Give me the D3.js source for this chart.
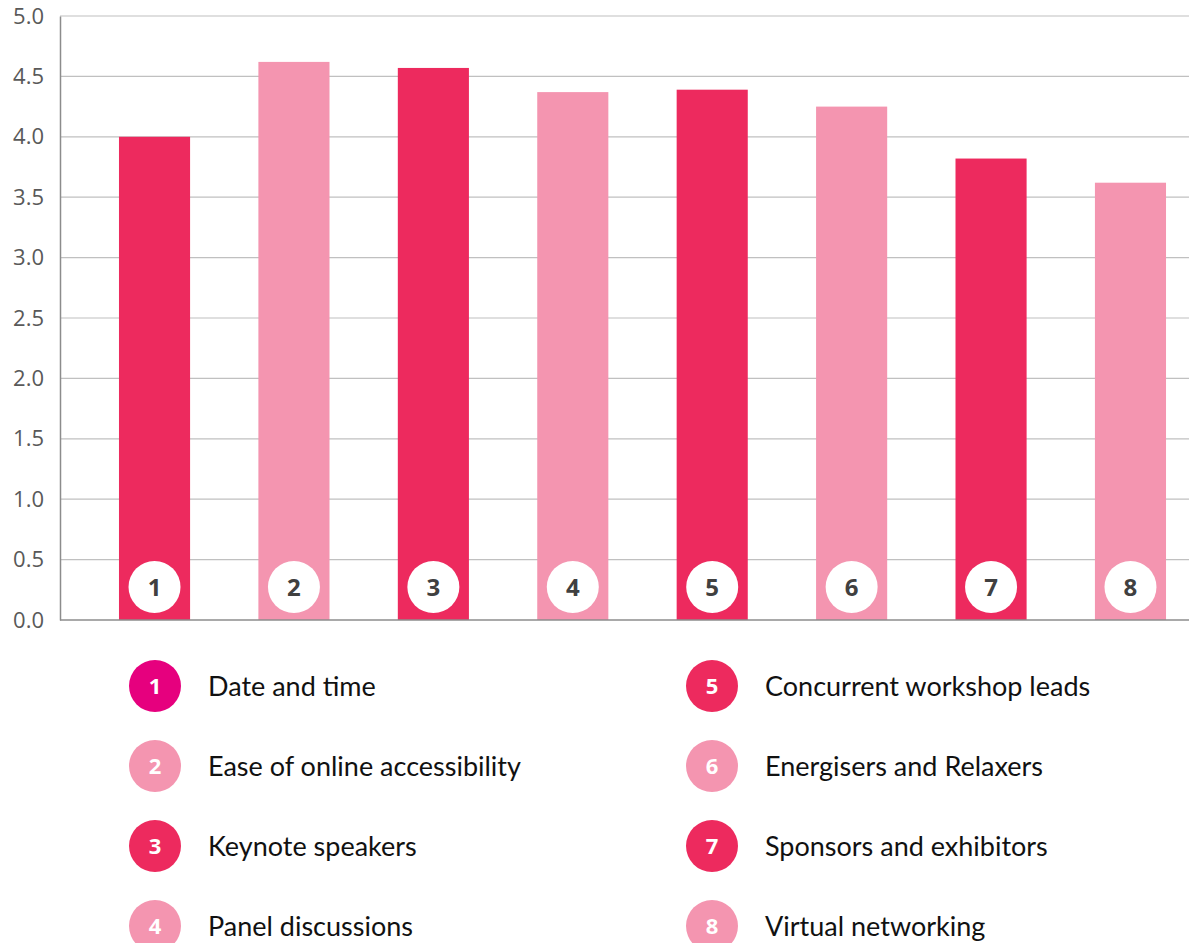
<!DOCTYPE html>
<html>
<head>
<meta charset="utf-8">
<script src="https://cdn.jsdelivr.net/npm/d3@7"></script>
<style>
  body { margin: 0; background: #fff; }
</style>
</head>
<body>
<div id="chart"></div>
<script>
// chart values
const ids = ["1", "2", "3", "4", "5", "6", "7", "8"];
const labels = [
    "Date and time",
    "Ease of online accessibility",
    "Keynote speakers",
    "Panel discussions",
    "Concurrent workshop leads",
    "Energisers and Relaxers",
    "Sponsors and exhibitors",
    "Virtual networking"
];
const scores = [4.0, 4.62, 4.57, 4.37, 4.39, 4.25, 3.82, 3.62];
const yTicks = [0, 0.5, 1, 1.5, 2, 2.5, 3, 3.5, 4, 4.5, 5];

const dark = "#ED2A5E";
const light = "#F495B0";
const barColors = [dark, light, dark, light, dark, light, dark, light];
const legendColors = ["#E6007E", light, dark, light, dark, light, dark, light];

const width = 1189, height = 943;
const margin = {top: 16, left: 60, bottom: 323};

const svg = d3.select("#chart")
    .append("svg")
    .attr("width", width)
    .attr("height", height);

const y = d3.scaleLinear()
    .domain([0, 5])
    .range([height - margin.bottom, margin.top]);

const x = d3.scaleBand()
    .domain(ids)
    .range([margin.left, 1225])
    .paddingInner(0.49)
    .paddingOuter(0.423);

// grid
svg.append("g")
    .selectAll("line")
    .data(yTicks.slice(1))
    .join("line")
    .attr("x1", margin.left)
    .attr("x2", width)
    .attr("y1", d => y(d))
    .attr("y2", d => y(d))
    .style("stroke", "#c0c0c0")
    .style("stroke-width", 1.2);

// y axis
const yAxis = d3.axisLeft(y)
    .tickValues(yTicks)
    .tickFormat(d3.format(".1f"))
    .tickSize(0)
    .tickPadding(16);

const gy = svg.append("g")
    .attr("transform", `translate(${margin.left},0)`)
    .call(yAxis);
gy.select(".domain").style("stroke", "#8c8c8c").style("stroke-width", 1.5);
gy.selectAll("text")
    .style("font-family", "'Open Sans', sans-serif")
    .style("font-size", "22px")
    .style("fill", "#595959");

// bars
svg.append("g")
    .selectAll("rect")
    .data(scores)
    .join("rect")
    .attr("x", (d, i) => x(ids[i]))
    .attr("width", x.bandwidth())
    .attr("y", d => y(d))
    .attr("height", d => y(0) - y(d))
    .style("fill", (d, i) => barColors[i]);

// x axis baseline
svg.append("line")
    .attr("x1", margin.left)
    .attr("x2", width)
    .attr("y1", y(0))
    .attr("y2", y(0))
    .style("stroke", "#8c8c8c")
    .style("stroke-width", 1.5);

// number badges
const badges = svg.append("g")
    .selectAll("g")
    .data(ids)
    .join("g")
    .attr("transform", d => `translate(${x(d) + x.bandwidth() / 2}, ${y(0) - 33})`);
badges.append("circle")
    .attr("r", 26)
    .style("fill", "#fff");
badges.append("text")
    .attr("dy", "0.36em")
    .style("text-anchor", "middle")
    .style("font-family", "'Open Sans', sans-serif")
    .style("font-weight", "bold")
    .style("font-size", "24px")
    .style("fill", "#404040")
    .text(d => d);

// legend
const legend = svg.append("g")
    .selectAll("g")
    .data(labels)
    .join("g")
    .attr("transform", (d, i) => `translate(${i < 4 ? 155 : 712}, ${686 + (i % 4) * 80})`);
legend.append("circle")
    .attr("r", 26)
    .style("fill", (d, i) => legendColors[i]);
legend.append("text")
    .attr("dy", "0.36em")
    .style("text-anchor", "middle")
    .style("font-family", "'Open Sans', sans-serif")
    .style("font-weight", "bold")
    .style("font-size", "22px")
    .style("fill", "#fff")
    .text((d, i) => ids[i]);
legend.append("text")
    .attr("x", 53)
    .attr("dy", "0.36em")
    .style("font-family", "Lato, sans-serif")
    .style("font-size", "27px")
    .style("fill", "#111")
    .text(d => d);
</script>
</body>
</html>
